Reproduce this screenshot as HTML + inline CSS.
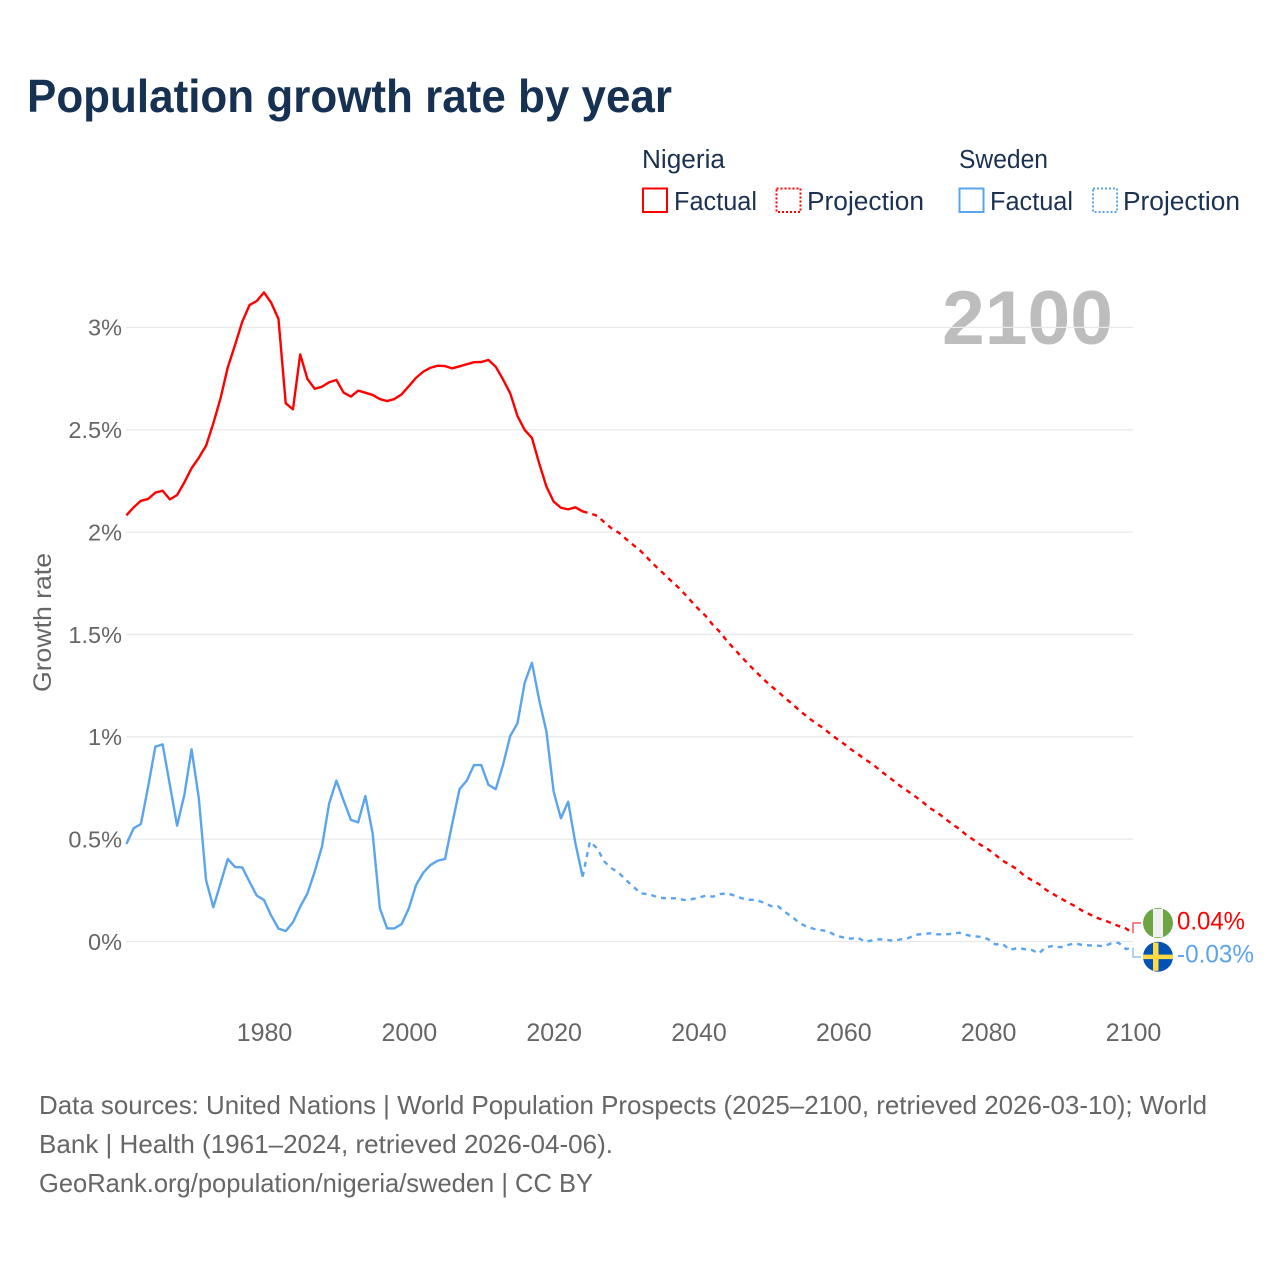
<!DOCTYPE html>
<html lang="en">
<head>
<meta charset="utf-8">
<title>Population growth rate by year</title>
<style>
html,body{margin:0;padding:0;background:#fff;width:1280px;height:1280px;overflow:hidden}
svg{display:block;font-family:"Liberation Sans",sans-serif}
.lg{font-size:25.5px;fill:#1a3152}
.ft{font-size:26px;fill:#666}
</style>
</head>
<body>
<svg id="chart" xmlns="http://www.w3.org/2000/svg" width="1280" height="1280" viewBox="0 0 1280 1280">
  <rect x="0" y="0" width="1280" height="1280" fill="#fff"/>
  <text x="27" y="112" font-size="46" font-weight="700" fill="#163152" textLength="645" lengthAdjust="spacingAndGlyphs">Population growth rate by year</text>

  <g>
    <text class="lg" x="642" y="168" textLength="83" lengthAdjust="spacingAndGlyphs">Nigeria</text>
    <rect x="643" y="188.5" width="24" height="23.5" fill="none" stroke="#ff0000" stroke-width="2"/>
    <text class="lg" x="674" y="210" textLength="83" lengthAdjust="spacingAndGlyphs">Factual</text>
    <rect x="776.5" y="188.5" width="24" height="23.5" fill="none" stroke="#ff0000" stroke-width="2" stroke-dasharray="2 2"/>
    <text class="lg" x="807" y="210" textLength="117" lengthAdjust="spacingAndGlyphs">Projection</text>
    <text class="lg" x="959" y="168" textLength="89" lengthAdjust="spacingAndGlyphs">Sweden</text>
    <rect x="959.5" y="188.5" width="24" height="23.5" fill="none" stroke="#5ba4ee" stroke-width="2"/>
    <text class="lg" x="990" y="210" textLength="83" lengthAdjust="spacingAndGlyphs">Factual</text>
    <rect x="1093" y="188.5" width="24" height="23.5" fill="none" stroke="#5ba4ee" stroke-width="2" stroke-dasharray="2 2"/>
    <text class="lg" x="1123" y="210" textLength="117" lengthAdjust="spacingAndGlyphs">Projection</text>
  </g>

  <text x="1113" y="344" text-anchor="end" font-size="76" font-weight="700" fill="#bdbdbd" textLength="171" lengthAdjust="spacingAndGlyphs">2100</text>
  <text transform="translate(51,692) rotate(-90)" font-size="25" fill="#666" textLength="139" lengthAdjust="spacingAndGlyphs">Growth rate</text>

  <g id="grid"></g>
  <g id="ylabels"></g>
  <g id="xlabels"></g>
  <g id="series"></g>

  <g>
    <circle cx="1158" cy="923" r="15" fill="#6da544"/>
    <rect x="1153" y="908.9" width="10" height="28.2" fill="#f0f0f0"/>
  </g>
  <g>
    <circle cx="1158" cy="956.7" r="15" fill="#0052b4"/>
    <rect x="1153" y="942.6" width="5.5" height="28.2" fill="#ffda44"/>
    <rect x="1143" y="954.6" width="30" height="4.5" fill="#ffda44"/>
  </g>
  <text x="1177" y="929.5" font-size="25" fill="#ff0000" textLength="68" lengthAdjust="spacingAndGlyphs">0.04%</text>
  <text x="1177" y="962.5" font-size="25" fill="#5ba4ee" textLength="77" lengthAdjust="spacingAndGlyphs">-0.03%</text>

  <g>
    <text class="ft" x="39" y="1114" textLength="1168" lengthAdjust="spacingAndGlyphs">Data sources: United Nations | World Population Prospects (2025–2100, retrieved 2026-03-10); World</text>
    <text class="ft" x="39" y="1153" textLength="574" lengthAdjust="spacingAndGlyphs">Bank | Health (1961–2024, retrieved 2026-04-06).</text>
    <text class="ft" x="39" y="1192" textLength="554" lengthAdjust="spacingAndGlyphs">GeoRank.org/population/nigeria/sweden | CC BY</text>
  </g>
</svg>
<script>
const firstFactualYear = 1961;
const firstProjectionYear = 2025;
const yTickValues = [0, 0.5, 1, 1.5, 2, 2.5, 3];
const yTickLabels = ['0%', '0.5%', '1%', '1.5%', '2%', '2.5%', '3%'];
const xTickYears = [1980, 2000, 2020, 2040, 2060, 2080, 2100];
const nigeriaFactual = [2.082,2.121,2.153,2.162,2.193,2.202,2.16,2.181,2.243,2.312,2.363,2.422,2.531,2.654,2.805,2.914,3.028,3.109,3.129,3.171,3.12,3.041,2.629,2.6,2.868,2.748,2.70,2.71,2.732,2.743,2.681,2.662,2.691,2.681,2.67,2.65,2.64,2.65,2.673,2.713,2.754,2.784,2.803,2.813,2.811,2.80,2.81,2.82,2.83,2.831,2.841,2.808,2.746,2.678,2.567,2.499,2.46,2.336,2.222,2.149,2.119,2.111,2.121,2.101];
const nigeriaProjection = [2.092,2.08,2.048,2.018,1.997,1.966,1.937,1.908,1.872,1.836,1.803,1.769,1.737,1.701,1.662,1.624,1.59,1.546,1.51,1.465,1.427,1.388,1.351,1.315,1.281,1.248,1.22,1.188,1.159,1.127,1.098,1.071,1.048,1.02,0.993,0.968,0.94,0.916,0.89,0.867,0.838,0.81,0.784,0.756,0.732,0.707,0.68,0.651,0.629,0.602,0.574,0.55,0.52,0.496,0.471,0.45,0.423,0.395,0.374,0.353,0.321,0.30,0.281,0.252,0.231,0.211,0.191,0.173,0.15,0.133,0.116,0.104,0.09,0.076,0.064,0.04];
const swedenFactual = [0.476,0.553,0.574,0.756,0.952,0.963,0.765,0.566,0.716,0.939,0.70,0.30,0.167,0.284,0.403,0.364,0.362,0.292,0.224,0.203,0.126,0.063,0.051,0.094,0.17,0.235,0.341,0.463,0.675,0.786,0.688,0.594,0.582,0.711,0.529,0.162,0.064,0.064,0.085,0.162,0.276,0.336,0.374,0.395,0.403,0.577,0.744,0.786,0.862,0.862,0.765,0.744,0.862,1.004,1.066,1.264,1.362,1.18,1.025,0.732,0.602,0.683,0.48,0.317];
const swedenProjection = [0.488,0.455,0.39,0.358,0.335,0.30,0.268,0.235,0.232,0.221,0.2125,0.211,0.211,0.203,0.206,0.214,0.224,0.219,0.232,0.235,0.224,0.211,0.204,0.203,0.19,0.173,0.172,0.143,0.118,0.089,0.072,0.061,0.055,0.048,0.028,0.02,0.014,0.019,-0.002,0.006,0.011,0.007,0.004,0.011,0.017,0.033,0.037,0.04,0.035,0.035,0.037,0.043,0.032,0.025,0.023,0.011,-0.014,-0.012,-0.041,-0.032,-0.037,-0.041,-0.058,-0.027,-0.022,-0.028,-0.017,-0.009,-0.017,-0.019,-0.02,-0.023,-0.009,-0.006,-0.037,-0.03];

const NS = 'http://www.w3.org/2000/svg';
function xScale(year) { return 264 + (year - 1980) * 7.2417; }
function yScale(value) { return 941.5 - value * 204.7; }
function make(tag, parent, props) {
  const el = document.createElementNS(NS, tag);
  for (const k in props) el.setAttribute(k, props[k]);
  parent.appendChild(el);
  return el;
}
function linePath(startYear, values, anchor) {
  const pts = values.map((v, i) => xScale(startYear + i).toFixed(2) + ',' + yScale(v).toFixed(2));
  if (anchor) pts.unshift(xScale(anchor[0]).toFixed(2) + ',' + yScale(anchor[1]).toFixed(2));
  return 'M' + pts.join('L');
}

const grid = document.getElementById('grid');
const yLabels = document.getElementById('ylabels');
yTickValues.forEach((v, i) => {
  const line = make('line', grid, {x1: 126, x2: xScale(2100), y1: yScale(v), y2: yScale(v), stroke: '#e9e9e9', 'stroke-width': 1.3});
  
  
  const t = make('text', yLabels, {x: 122, y: yScale(v) + 8.3, 'text-anchor': 'end', 'font-size': 23.5, fill: '#666'});
  t.textContent = yTickLabels[i];
  
  
});

const xLabels = document.getElementById('xlabels');
xTickYears.forEach((year) => {
  const t = make('text', xLabels, {x: xScale(year) + 0.5, y: 1041, 'text-anchor': 'middle', 'font-size': 25, fill: '#666'});
  t.textContent = String(year);
  
  
});

const series = document.getElementById('series');
const lastYear = firstFactualYear + nigeriaFactual.length - 1;

const redFactual = make('path', series, {d: linePath(firstFactualYear, nigeriaFactual), fill: 'none', stroke: '#ff0000', 'stroke-width': 2.4, 'stroke-linejoin': 'round'});



const redProjection = make('path', series, {d: linePath(firstProjectionYear, nigeriaProjection, [lastYear, nigeriaFactual[nigeriaFactual.length - 1]]), fill: 'none', stroke: '#ff0000', 'stroke-width': 2.4, 'stroke-dasharray': '5 5'});



const blueFactual = make('path', series, {d: linePath(firstFactualYear, swedenFactual), fill: 'none', stroke: '#5ba4ee', 'stroke-width': 2.4, 'stroke-linejoin': 'round'});



const blueProjection = make('path', series, {d: linePath(firstProjectionYear, swedenProjection, [lastYear, swedenFactual[swedenFactual.length - 1]]), fill: 'none', stroke: '#5ba4ee', 'stroke-width': 2.4, 'stroke-dasharray': '5 5'});



const endX = xScale(2100);
const redEnd = nigeriaProjection[nigeriaProjection.length - 1];
const blueEnd = swedenProjection[swedenProjection.length - 1];
const redConnector = make('path', series, {d: 'M' + endX + ',' + yScale(redEnd) + 'V923H1141', fill: 'none', stroke: '#ff0000', 'stroke-opacity': 0.65, 'stroke-width': 1.5});


const blueConnector = make('path', series, {d: 'M' + endX + ',' + yScale(blueEnd) + 'V957H1141', fill: 'none', stroke: '#5ba4ee', 'stroke-opacity': 0.65, 'stroke-width': 1.5});


</script>
</body>
</html>
